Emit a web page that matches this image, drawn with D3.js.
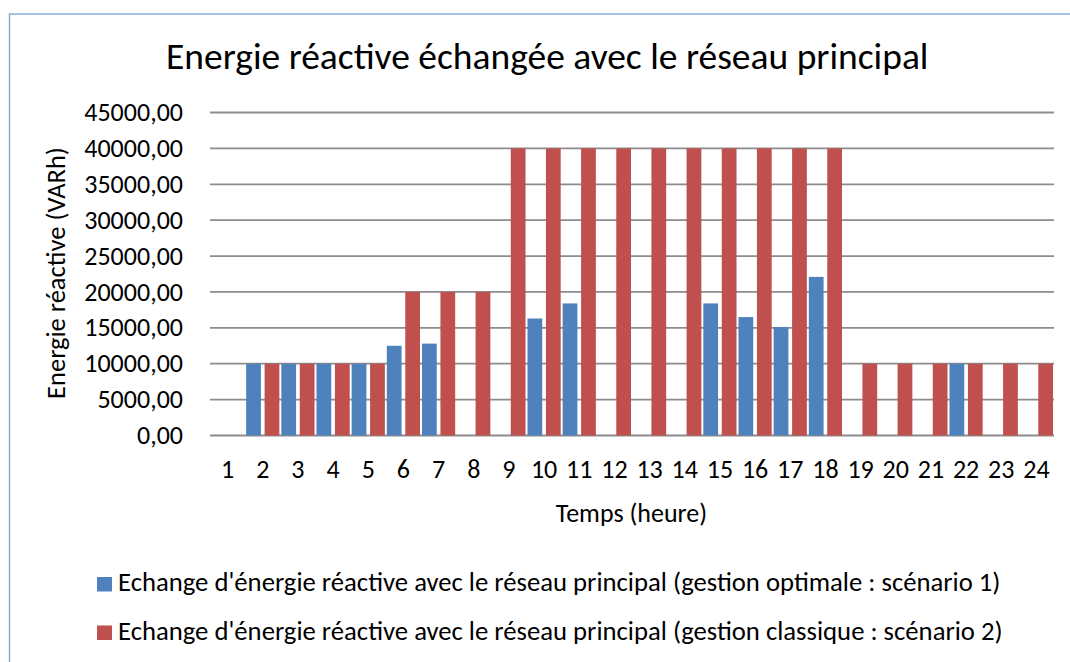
<!DOCTYPE html>
<html>
<head>
<meta charset="utf-8">
<script src="https://cdn.jsdelivr.net/npm/d3@7"></script>
<style>
  html, body { margin: 0; padding: 0; background: #fff; }
  svg { display: block; }
  text { font-family: Carlito, "Open Sans", "Liberation Sans", sans-serif; fill: #000; }
</style>
</head>
<body>
<svg id="chart" width="1070" height="662"></svg>
<script>
// Heures de la journée
const hours = d3.range(1, 25).map(String);

// Échange d'énergie réactive (VARh) – gestion optimale : scénario 1
const optimale = [0, 10000, 10000, 10000, 10000, 12500, 12800, 0, 0, 16300, 18400, 0,
                  0, 0, 18400, 16500, 15100, 22100, 0, 0, 0, 10000, 0, 0];

// Échange d'énergie réactive (VARh) – gestion classique : scénario 2
const classique = [0, 10000, 10000, 10000, 10000, 20000, 20000, 20000, 40000, 40000, 40000, 40000,
                   40000, 40000, 40000, 40000, 40000, 40000, 10000, 10000, 10000, 10000, 10000, 10000];

const yTicks = [0, 5000, 10000, 15000, 20000, 25000, 30000, 35000, 40000, 45000];

const seriesNames = [
  "Echange d'énergie réactive avec le réseau principal (gestion optimale : scénario 1)",
  "Echange d'énergie réactive avec le réseau principal (gestion classique : scénario 2)"
];
const colors = ["#4f81bd", "#c0504d"];

const svg = d3.select("#chart");
const plot = { left: 210, right: 1054, top: 112.5, bottom: 435.5 };
const labelSize = "26px";

// Cadre du graphique
svg.append("rect")
  .attr("x", 9.5).attr("y", 14)
  .attr("width", 1100).attr("height", 700)
  .attr("fill", "#fff")
  .attr("stroke", "#8eaadb").attr("stroke-width", 1.5);

// Titre
svg.append("text")
  .attr("x", 166).attr("y", 69)
  .style("font-size", "37.5px")
  .text("Energie réactive échangée avec le réseau principal");

const x = d3.scaleBand().domain(hours).range([plot.left, plot.right]).paddingInner(0).paddingOuter(0);
const y = d3.scaleLinear().domain([0, 45000]).range([plot.bottom, plot.top]);
const sub = d3.scaleBand().domain([0, 1]).range([x.bandwidth() / 2 - 16.6, x.bandwidth() / 2 + 16.6]).paddingInner(0.2).paddingOuter(0);

const fmt = v => d3.format(".2f")(v).replace(".", ",");

// Quadrillage horizontal
svg.append("g").selectAll("line").data(yTicks).join("line")
  .attr("x1", plot.left).attr("x2", plot.right)
  .attr("y1", d => y(d)).attr("y2", d => y(d))
  .attr("stroke", "#8c8c8c").attr("stroke-width", 1.8);

// Axe vertical (étiquettes)
const yAxis = svg.append("g")
  .attr("transform", `translate(${plot.left},0)`)
  .call(d3.axisLeft(y).tickValues(yTicks).tickFormat(fmt).tickSize(0).tickPadding(27));
yAxis.select(".domain").remove();
yAxis.selectAll("text").style("font-size", labelSize).attr("dy", "0.31em");

// Axe horizontal (étiquettes)
const xAxis = svg.append("g")
  .attr("transform", `translate(0,${plot.bottom})`)
  .call(d3.axisBottom(x).tickSize(0).tickPadding(0));
xAxis.select(".domain").remove();
xAxis.selectAll("text").style("font-size", labelSize).attr("dy", null).attr("y", 42.5);

// Barres
const groups = svg.append("g").selectAll("g").data(hours).join("g")
  .attr("transform", d => `translate(${x(d)},0)`);
groups.selectAll("rect")
  .data((d, i) => [optimale[i], classique[i]].map((v, s) => ({ v, s })))
  .join("rect")
  .attr("x", d => sub(d.s))
  .attr("width", sub.bandwidth())
  .attr("y", d => y(d.v))
  .attr("height", d => y(0) - y(d.v))
  .attr("fill", d => colors[d.s]);

// Titres des axes
svg.append("text")
  .attr("transform", "translate(65,273) rotate(-90)")
  .attr("text-anchor", "middle")
  .style("font-size", "26.5px")
  .text("Energie réactive (VARh)");

svg.append("text")
  .attr("x", 631.5).attr("y", 521.5)
  .attr("text-anchor", "middle")
  .style("font-size", labelSize)
  .text("Temps (heure)");

// Légende
const legend = svg.append("g").selectAll("g").data(seriesNames).join("g")
  .attr("transform", (d, i) => `translate(97,${577 + i * 48.5})`);
legend.append("rect")
  .attr("width", 15).attr("height", 14.5)
  .attr("fill", (d, i) => colors[i]);
legend.append("text")
  .attr("x", 21).attr("y", 14)
  .style("font-size", "26.7px")
  .text(d => d);
</script>
</body>
</html>
